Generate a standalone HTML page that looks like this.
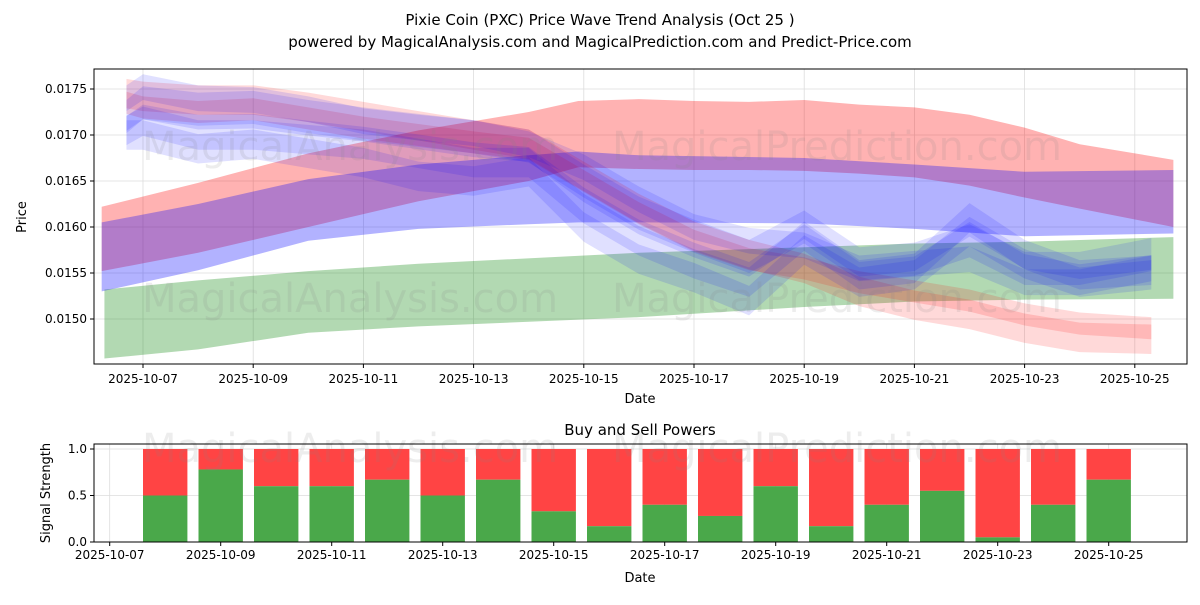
<!DOCTYPE html>
<html><head><meta charset="utf-8"><style>
body{margin:0;background:#fff;font-family:"Liberation Sans","DejaVu Sans",sans-serif}
svg text{font-family:"DejaVu Sans","Liberation Sans",sans-serif}
</style></head><body>
<svg id="c" width="1200" height="600" xmlns="http://www.w3.org/2000/svg">
<rect width="1200" height="600" fill="#fff"/>
<text x="600" y="25" font-size="15" text-anchor="middle">Pixie Coin (PXC) Price Wave Trend Analysis (Oct 25 )</text>
<text x="600" y="47" font-size="15" text-anchor="middle">powered by MagicalAnalysis.com and MagicalPrediction.com and Predict-Price.com</text>
<g id="topChart"></g>
<g id="botChart"></g>
</svg>
<script>
const bandRedDays=[-0.75,1,3,5,7,7.9,9,10,11,12,13,14,15,16,17,18.7];
const bandRedUp=[0.01622,0.01648,0.01680,0.01705,0.01725,0.01737,0.01739,0.01737,0.01736,0.01738,0.01733,0.01730,0.01722,0.01708,0.01690,0.01673];
const bandRedLo=[0.01552,0.01572,0.01600,0.01628,0.01650,0.01665,0.01663,0.01662,0.01662,0.01661,0.01658,0.01654,0.01645,0.01632,0.01620,0.01600];
const bandBlueDays=[-0.75,1,3,5,7,7.9,9,12,14,16,18.7];
const bandBlueUp=[0.01605,0.01625,0.01652,0.01668,0.01678,0.01682,0.01678,0.01675,0.01668,0.01660,0.01662];
const bandBlueLo=[0.01530,0.01553,0.01585,0.01598,0.01603,0.01605,0.01605,0.01604,0.01598,0.01590,0.01593];
const bandGreenDays=[-0.7,1,3,5,9,12,14,16,18.7];
const bandGreenUp=[0.01532,0.01542,0.01552,0.01560,0.01572,0.01578,0.01582,0.01584,0.01589];
const bandGreenLo=[0.01457,0.01467,0.01485,0.01492,0.01502,0.01513,0.01519,0.01521,0.01522];
const waveDays=[-0.3,0,1,2,3,4,5,6,7,8,9,10,11,12,13,14,15,16,17,18.3];
const waveBlueA=[0.01720,0.01735,0.01728,0.01730,0.01720,0.01712,0.01705,0.01698,0.01688,0.01650,0.01615,0.01590,0.01568,0.01600,0.01560,0.01565,0.01585,0.01555,0.01555,0.01570];
const waveBlueB=[0.01705,0.01715,0.01700,0.01700,0.01695,0.01690,0.01680,0.01670,0.01670,0.01620,0.01585,0.01560,0.01540,0.01590,0.01548,0.01555,0.01610,0.01570,0.01548,0.01553];
const waveBlueC=[0.01740,0.01752,0.01740,0.01738,0.01728,0.01715,0.01708,0.01702,0.01690,0.01665,0.01630,0.01600,0.01585,0.01580,0.01555,0.01560,0.01565,0.01540,0.01540,0.01555];
const waveBlueD=[0.01700,0.01700,0.01685,0.01690,0.01680,0.01670,0.01655,0.01650,0.01660,0.01600,0.01565,0.01545,0.01520,0.01575,0.01540,0.01548,0.01595,0.01560,0.01540,0.01548];
const waveRedA=[0.01745,0.01742,0.01738,0.01738,0.01730,0.01720,0.01710,0.01700,0.01690,0.01655,0.01620,0.01590,0.01570,0.01555,0.01530,0.01515,0.01505,0.01490,0.01480,0.01478];
const waveRedB=[0.01735,0.01730,0.01725,0.01728,0.01718,0.01708,0.01700,0.01692,0.01685,0.01650,0.01615,0.01585,0.01565,0.01555,0.01540,0.01530,0.01520,0.01505,0.01495,0.01490];
const buyDays=[1,2,3,4,5,6,7,8,9,10,11,12,13,14,15,16,17,18];
const buyVals=[0.5,0.78,0.6,0.6,0.67,0.5,0.67,0.33,0.17,0.4,0.28,0.6,0.17,0.4,0.55,0.05,0.4,0.67];
const yTicks=[0.0150,0.0155,0.0160,0.0165,0.0170,0.0175];
const xTickDays=[0,2,4,6,8,10,12,14,16,18];
const xTickLabels=['2025-10-07','2025-10-09','2025-10-11','2025-10-13','2025-10-15','2025-10-17','2025-10-19','2025-10-21','2025-10-23','2025-10-25'];
const sTicks=[0,0.5,1.0];

const NS='http://www.w3.org/2000/svg';
function mk(p,t,a,txt){const e=document.createElementNS(NS,t);for(const k in a)e.setAttribute(k,a[k]);if(txt!==undefined)e.textContent=txt;p.appendChild(e);return e;}
const topG=document.getElementById('topChart'),botG=document.getElementById('botChart');
const L=94,R=1187,T=69,B=364;
const X=d=>143+d*55.1, Y=v=>319-(v-0.015)/0.0005*46;
const X2=d=>109.7+d*55.5, Y2=v=>542-v*93;

xTickDays.forEach(d=>{const g=mk(topG,'line',{x1:X(d),x2:X(d),y1:T,y2:B,stroke:'#ddd','stroke-width':0.8});

});
yTicks.forEach(v=>{const g=mk(topG,'line',{x1:L,x2:R,y1:Y(v),y2:Y(v),stroke:'#ddd','stroke-width':0.8});

});

function band(days,up,lo,col,op,name){
  let pts=days.map((d,i)=>X(d)+','+Y(up[i]));
  for(let i=days.length-1;i>=0;i--)pts.push(X(days[i])+','+Y(lo[i]));
  const p=mk(topG,'polygon',{points:pts.join(' '),fill:col,'fill-opacity':op});
  
  
}
band(bandGreenDays,bandGreenUp,bandGreenLo,'#008000',0.3,'green-band');
band(bandRedDays,bandRedUp,bandRedLo,'#ff0000',0.3,'red-band');
band(bandBlueDays,bandBlueUp,bandBlueLo,'#0000ff',0.3,'blue-band');
function wave(vals,w,col,op,name){
  band(waveDays,vals.map(v=>v+w),vals.map(v=>v-w),col,op,name);
}
wave(waveRedA,0.00016,'#ff0000',0.15,'red-wave');
wave(waveRedB,0.00012,'#ff0000',0.15,'red-wave');
wave(waveBlueA,0.00018,'#0000ff',0.12,'blue-wave');
wave(waveBlueB,0.00016,'#0000ff',0.12,'blue-wave');
wave(waveBlueC,0.00014,'#0000ff',0.12,'blue-wave');
wave(waveBlueD,0.00016,'#0000ff',0.12,'blue-wave');
wave(waveBlueA.map((v,i)=>(v+waveBlueB[i])/2),0.00008,'#0000ff',0.12,'blue-wave');

[[350,160],[837,160],[350,312],[837,312]].forEach((p,i)=>{const t=mk(topG,'text',{x:p[0],y:p[1],'font-size':40,'text-anchor':'middle',fill:'#888','fill-opacity':0.15},i%2?'MagicalPrediction.com':'MagicalAnalysis.com');

});

mk(topG,'rect',{x:L,y:T,width:R-L,height:B-T,fill:'none',stroke:'#000','stroke-width':1});
yTicks.forEach(v=>{mk(topG,'line',{x1:L-4,x2:L,y1:Y(v),y2:Y(v),stroke:'#000'});
const t=mk(topG,'text',{x:L-7,y:Y(v)+4,'font-size':12,'text-anchor':'end'},v.toFixed(4));

});
xTickDays.forEach((d,i)=>{mk(topG,'line',{x1:X(d),x2:X(d),y1:B,y2:B+4,stroke:'#000'});
const t=mk(topG,'text',{x:X(d),y:B+19,'font-size':12,'text-anchor':'middle'},xTickLabels[i]);

});
let t1=mk(topG,'text',{x:640,y:403,'font-size':13,'text-anchor':'middle'},'Date');


let t2=mk(topG,'text',{x:26,y:217,'font-size':13,'text-anchor':'middle',transform:'rotate(-90 26 217)'},'Price');



const L2=94,R2=1187,T2=444,B2=542;
sTicks.forEach(v=>{const g=mk(botG,'line',{x1:L2,x2:R2,y1:Y2(v),y2:Y2(v),stroke:'#ddd','stroke-width':0.8});

});
xTickDays.forEach(d=>{const g=mk(botG,'line',{x1:X2(d),x2:X2(d),y1:T2,y2:B2,stroke:'#ddd','stroke-width':0.8});

});
buyDays.forEach((d,i)=>{const w=0.8*55.5,x=X2(d)-w/2;
const s=mk(botG,'rect',{x:x,y:Y2(1),width:w,height:Y2(buyVals[i])-Y2(1),fill:'#ff4444'});


const b=mk(botG,'rect',{x:x,y:Y2(buyVals[i]),width:w,height:Y2(0)-Y2(buyVals[i]),fill:'#4aa84a'});

});
[[350,462],[837,462]].forEach((p,i)=>{const t=mk(botG,'text',{x:p[0],y:p[1],'font-size':40,'text-anchor':'middle',fill:'#888','fill-opacity':0.15},i?'MagicalPrediction.com':'MagicalAnalysis.com');

});
mk(botG,'rect',{x:L2,y:T2,width:R2-L2,height:B2-T2,fill:'none',stroke:'#000','stroke-width':1});
sTicks.forEach(v=>{mk(botG,'line',{x1:L2-4,x2:L2,y1:Y2(v),y2:Y2(v),stroke:'#000'});
const t=mk(botG,'text',{x:L2-7,y:Y2(v)+4,'font-size':12,'text-anchor':'end'},v.toFixed(1));

});
xTickDays.forEach((d,i)=>{mk(botG,'line',{x1:X2(d),x2:X2(d),y1:B2,y2:B2+4,stroke:'#000'});
const t=mk(botG,'text',{x:X2(d),y:B2+17,'font-size':12,'text-anchor':'middle'},xTickLabels[i]);

});
let t3=mk(botG,'text',{x:640,y:582,'font-size':13,'text-anchor':'middle'},'Date');


let t4=mk(botG,'text',{x:640,y:435,'font-size':15,'text-anchor':'middle'},'Buy and Sell Powers');


let t5=mk(botG,'text',{x:50,y:493,'font-size':13,'text-anchor':'middle',transform:'rotate(-90 50 493)'},'Signal Strength');


</script>
</body></html>
